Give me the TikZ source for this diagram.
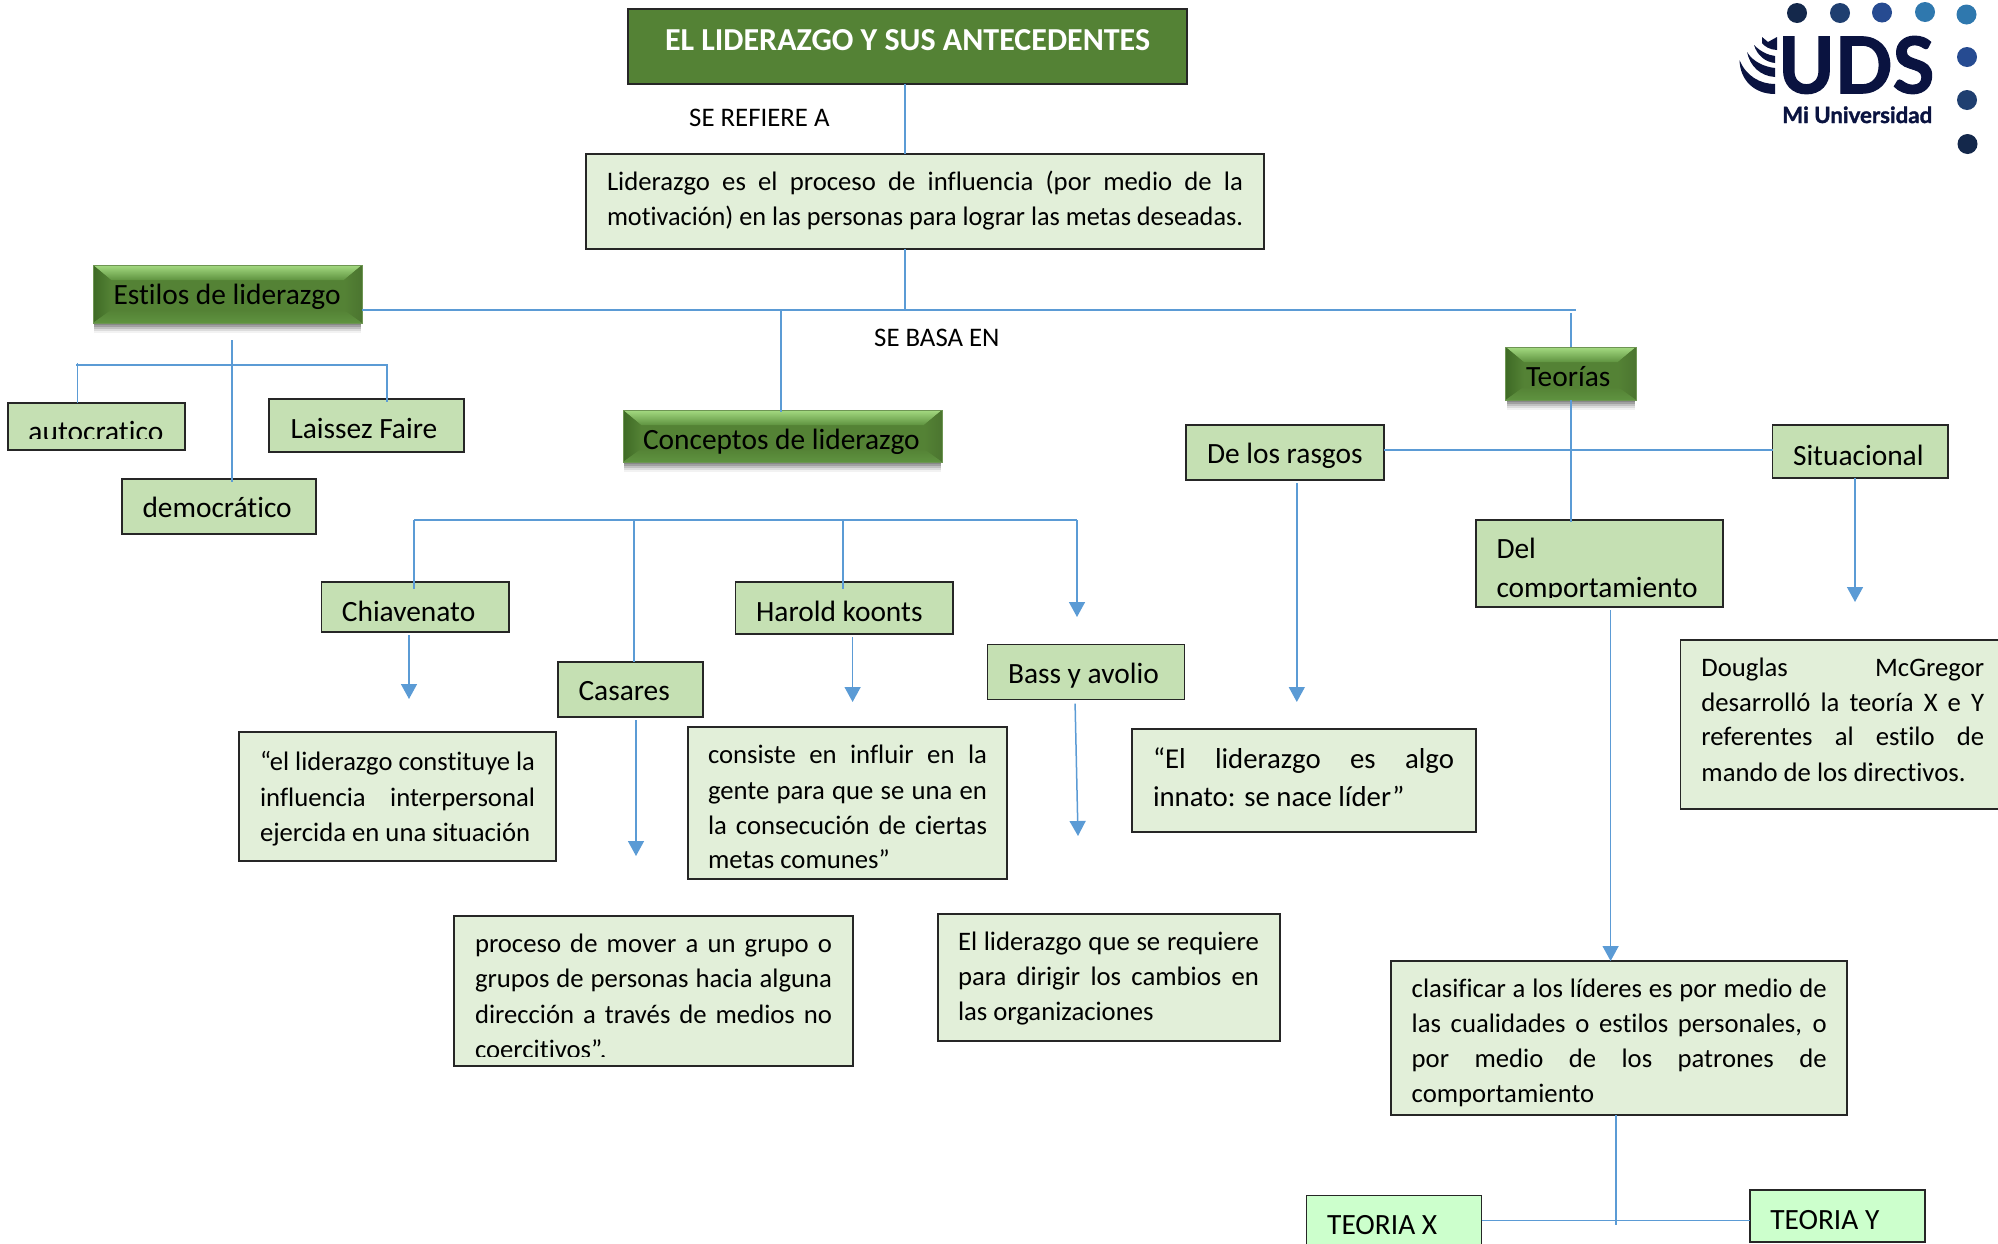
\documentclass[tikz,border=0pt]{standalone}
\usepackage{fontspec}
\usepackage{graphicx}
\setmainfont[Ligatures=NoCommon]{Carlito}
\newfontfamily\logofam[BoldFeatures={FakeBold=1.6}]{Lato}
\usetikzlibrary{arrows.meta,calc}
\definecolor{lightbox}{HTML}{E2EFD9}
\definecolor{midbox}{HTML}{C5E0B3}
\definecolor{brightbox}{HTML}{CCFFCC}
\definecolor{titlegreen}{HTML}{548235}
\definecolor{bevellight}{HTML}{A5DB82}
\definecolor{bevelmid}{HTML}{5F9340}
\definecolor{beveldark}{HTML}{3E6A25}
\definecolor{linkblue}{HTML}{5B9BD5}
\definecolor{edge}{HTML}{262626}
\definecolor{logoink}{HTML}{0A1340}
\definecolor{dotA}{HTML}{14284B}
\definecolor{dotB}{HTML}{1F3F70}
\definecolor{dotC}{HTML}{264B91}
\definecolor{dotD}{HTML}{2F78AE}
\newcommand\fsz[1]{\fontsize{#1}{#1}\selectfont}
\newcommand\TJ[4]{\vskip#1pt\hbox to \bw pt{\hskip#2pt\smash{\makebox[#3pt][s]{#4}}\hss}}
\newcommand\TF[4]{\vskip#1pt\hbox to \bw pt{\hskip#2pt\smash{\resizebox{#3pt}{\height}{#4}}\hss}}
\newcommand\TN[3]{\vskip#1pt\hbox to \bw pt{\hskip#2pt\smash{#3}\hss}}
\newcommand\bx[7]{%
  \pgfmathsetmacro\bw{#5-#3}\pgfmathsetmacro\bh{#6-#4}%
  \node[#1,anchor=north west,inner sep=0pt,outer sep=0pt,minimum width=\bw pt,minimum height=\bh pt] (#2) at (#3,#4)
    {\vbox to \bh pt{\hsize=\bw pt\offinterlineskip\parindent=0pt #7\vss}};}
\newcommand\bvx[6]{%
  \foreach \sh/\op in {2/.16,4/.16,6/.13,8/.09,10/.05}{\fill[black,opacity=\op] ($(#2,#3)+(1,\sh)$) rectangle ($(#4,#5)+(-1,\sh)$);}
  \bx{bevelbox}{#1}{#2}{#3}{#4}{#5}{#6}}
\tikzset{
  x=1pt,y=-1pt,
  lightnode/.style={draw=edge,line width=1.3pt,fill=lightbox,font=\fsz{26.7}},
  midnode/.style={draw=edge,line width=1.3pt,fill=midbox,font=\fsz{29.4}},
  brightnode/.style={draw=edge,line width=1.1pt,fill=brightbox,font=\fsz{29.4}},
  titlenode/.style={draw=edge,line width=1.3pt,fill=titlegreen,text=white,font=\bfseries\fsz{32}},
  plainlabel/.style={anchor=base west,inner sep=0pt,font=\fsz{26.8}},
  link/.style={draw=linkblue,line width=1.5pt},
  arrowlink/.style={link,-{Triangle[length=15pt,width=16pt]}},
  bevelbox/.style={draw=titlegreen!85!white,line width=.8pt,fill=titlegreen,font=\fsz{29.4},
    path picture={
      \coordinate (nw) at (path picture bounding box.north west);
      \coordinate (ne) at (path picture bounding box.north east);
      \coordinate (se) at (path picture bounding box.south east);
      \coordinate (sw) at (path picture bounding box.south west);
      \coordinate (inw) at ($(nw)+(18,15)$);
      \coordinate (ine) at ($(ne)+(-18,15)$);
      \coordinate (ise) at ($(se)+(-18,-13)$);
      \coordinate (isw) at ($(sw)+(18,-13)$);
      \shade[top color=bevellight,bottom color=bevelmid] (nw)--(ne)--(ine)--(inw)--cycle;
      \shade[left color=beveldark,right color=titlegreen] (nw)--(inw)--(isw)--(sw)--cycle;
      \shade[left color=titlegreen,right color=titlegreen!90!black] (ne)--(ine)--(ise)--(se)--cycle;
      \shade[top color=titlegreen,bottom color=bevelmid] (sw)--(isw)--(ise)--(se)--cycle;
    }},
}
\begin{document}
\begin{tikzpicture}
\useasboundingbox (0,0) rectangle (1998,1243);
% main boxes
\bx{titlenode}{title}{628}{9}{1187}{84}{\TN{41}{37}{EL LIDERAZGO Y SUS ANTECEDENTES}}
\node[plainlabel] (refiere) at (689,126) {SE REFIERE A};
\bx{lightnode}{def}{586}{154}{1264}{249}{%
  \TJ{36}{21}{636}{Liderazgo es el proceso de influencia (por medio de la}
  \TF{35}{21}{636}{motivación) en las personas para lograr las metas deseadas.}}
\node[plainlabel] (basa) at (874,346) {SE BASA EN};
\bvx{estilos}{93}{265}{362}{323}{\TN{39}{20.5}{Estilos de liderazgo}}
\bvx{conceptos}{623}{410}{942}{462}{\TN{39}{20}{Conceptos de liderazgo}}
\bvx{teorias}{1505.6}{347}{1636}{400}{\TN{39}{20.4}{Teorías}}
% estilos
\bx{midnode}{auto}{8}{403}{185}{450}{\TN{38}{20.5}{autocratico}}
\fill[midbox] (10,439) rectangle (183,448);
\bx{midnode}{laissez}{269}{399}{464}{452}{\TN{39}{21.5}{Laissez Faire}}
\bx{midnode}{demo}{122}{479}{316}{534}{\TN{38}{20.5}{democrático}}
% conceptos
\bx{midnode}{chia}{321.4}{582}{509}{632}{\TN{39}{20.5}{Chiavenato}}
\bx{midnode}{casares}{558}{662}{703}{717}{\TN{38}{20.5}{Casares}}
\bx{midnode}{harold}{735.6}{582}{953}{634}{\TN{39}{20.5}{Harold koonts}}
\bx{midnode}{bass}{987.5}{644.6}{1184.5}{699.6}{\TN{38.4}{20.5}{Bass y avolio}}
\bx{lightnode}{chiadef}{239}{732}{556}{861}{%
  \TF{38}{21}{275}{“el liderazgo constituye la}
  \TJ{36}{21}{275}{influencia interpersonal}
  \TN{35}{21}{ejercida en una situación}}
\bx{lightnode}{hardef}{688}{727}{1007}{879}{%
  \TJ{36}{20}{279}{consiste en influir en la}
  \TJ{36}{20}{279}{gente para que se una en}
  \TJ{35}{20}{279}{la consecución de ciertas}
  \TN{34}{20}{metas comunes”}}
\bx{lightnode}{casdef}{454}{916}{853}{1066}{%
  \TJ{36.6}{21}{357}{proceso de mover a un grupo o}
  \TJ{34.4}{21}{357}{grupos de personas hacia alguna}
  \TJ{36}{21}{357}{dirección a través de medios no}
  \TN{35}{21}{coercitivos”.}}
\fill[lightbox] (456,1056.5) rectangle (851,1064);
\bx{lightnode}{bassdef}{938}{914}{1280}{1041}{%
  \TJ{36}{20}{301}{El liderazgo que se requiere}
  \TJ{35}{20}{301}{para dirigir los cambios en}
  \TN{35}{20}{las organizaciones}}
% teorias
\bx{midnode}{rasgos}{1186}{425}{1384}{480}{\TN{38}{21}{De los rasgos}}
\bx{midnode}{situ}{1772.5}{425}{1948}{478}{\TN{40}{20.5}{Situacional}}
\bx{midnode}{del}{1476}{520}{1723}{607}{\TN{38}{20.5}{Del}\TN{39}{20.5}{comportamiento}}
\fill[midbox] (1478,598) rectangle (1721,605);
\bx{lightnode}{rasdef}{1132}{729}{1476}{832}{%
  \TJ{39}{21}{301}{\fsz{28.8}“El liderazgo es algo}
  \TN{38}{21}{\fsz{28.8}innato: se nace líder”}}
\bx{lightnode}{doug}{1680.6}{640}{2010}{809}{%
  \TJ{36}{20.8}{282.7}{Douglas McGregor}
  \TJ{35}{20.8}{282.7}{desarrolló la teoría X e Y}
  \TJ{34.6}{20.8}{282.7}{referentes al estilo de}
  \TN{35.4}{20.8}{mando de los directivos.}}
\bx{lightnode}{clas}{1391}{961}{1847}{1115}{%
  \TJ{36}{20.7}{415}{clasificar a los líderes es por medio de}
  \TJ{35}{20.7}{415}{las cualidades o estilos personales, o}
  \TJ{35}{20.7}{415}{por medio de los patrones de}
  \TN{35}{20.7}{comportamiento}}
\bx{brightnode}{tx}{1306.7}{1195.7}{1481.6}{1270}{\TN{38.3}{20.5}{TEORIA X}}
\bx{brightnode}{ty}{1750}{1190}{1925}{1242}{\TN{39}{20.3}{TEORIA Y}}
% junctions and free ends
\coordinate (j1) at (905,310);
\coordinate (j2) at (781,310);
\coordinate (jr) at (1576,310);
\coordinate (es) at (232,340);
\coordinate (a1) at (77.5,365);
\coordinate (a2) at (387,365);
\coordinate (b1) at (414,520);
\coordinate (b2) at (634,520);
\coordinate (b3) at (843,520);
\coordinate (b4) at (1077,520);
\coordinate (b4e) at (1077,617);
\coordinate (ca) at (409,699);
\coordinate (cc) at (636,856);
\coordinate (ch) at (852.6,702);
\coordinate (cbs) at (1075,700);
\coordinate (cbe) at (1078,836);
\coordinate (cr) at (1296.8,702);
\coordinate (cs) at (1855,602);
\coordinate (tt) at (1571,313);
\coordinate (rr) at (1571,450);
\coordinate (cd) at (1610.6,700);
\coordinate (tc) at (1616,1225);
\coordinate (tm) at (1616,1220.7);
% connectors
\draw[link] (title.south -| j1) -- (def.north -| j1);
\draw[link] (def.south -| j1) -- (j1);
\draw[link] (estilos.east |- j1) -- (jr);
\draw[link] (j2) -- ($(conceptos.north -| j2)+(0,2)$);
\draw[link] (tt) -- (teorias.north -| tt);
\draw[link] (teorias.south -| tt) -- ($(del.north -| tt)+(0,2)$);
\draw[link] (rasgos.east |- rr) -- (situ.west |- rr);
\draw[link] (es) -- ($(demo.north -| es)+(0,3)$);
\draw[link] ($(a1)+(-1.5,0)$) -- (a2) -- ($(laissez.north -| a2)+(0,3)$);
\draw[link] (auto.north -| a1) -- ($(a1)+(0,-2)$);
\draw[link] (b1) -- (b4);
\draw[link] (b1) -- ($(chia.north -| b1)+(0,7)$);
\draw[link] (b2) -- (casares.north -| b2);
\draw[link] (b3) -- ($(harold.north -| b3)+(0,7)$);
\draw[arrowlink] (b4) -- (b4e);
\draw[arrowlink,shorten <=3pt] (chia.south -| ca) -- (ca);
\draw[arrowlink,shorten <=3pt] (casares.south -| cc) -- (cc);
\draw[arrowlink,shorten <=3pt] (harold.south -| ch) -- (ch);
\draw[arrowlink,shorten <=4pt] (bass.south -| cbs) -- (cbe);
\draw[arrowlink,shorten <=3pt] (rasgos.south -| cr) -- (cr);
\draw[arrowlink] (situ.south -| cs) -- (cs);
\draw[arrowlink,shorten <=3pt] (del.south -| cd) -- (clas.north -| cd);
\draw[link] (clas.south -| tc) -- (tc);
\draw[link] (tx.east |- tm) -- (ty.west |- tm);
% logo
\foreach \px/\py/\col in {1797/13/dotA,1840/13/dotB,1882/12.5/dotC,1925/12/dotD,1966.5/14.5/dotD,1967/57/dotC,1967/100/dotB,1967.5/144/dotA}
  \fill[\col] (\px,\py) circle[radius=10];
\node[anchor=south west,inner sep=0pt,text=logoink] (uds) at (1778,94) {\resizebox{156pt}{57pt}{\logofam\bfseries UDS}};
\node[anchor=base west,inner sep=0pt,text=logoink] (mi) at (1782,123) {\resizebox{150pt}{!}{\logofam\bfseries Mi Universidad}};
\fill[logoink] (1739.5,60) .. controls (1740,80) and (1754,94) .. (1775,94) -- (1775,84) .. controls (1760,84) and (1746,76) .. cycle;
\fill[logoink] (1747,52) .. controls (1750,66) and (1760,76) .. (1775,77) -- (1775,68) .. controls (1765,67) and (1753,62) .. cycle;
\fill[logoink] (1754,45) .. controls (1757,55) and (1765,62) .. (1775,63) -- (1775,56) .. controls (1768,55) and (1761,52) .. cycle;
\fill[logoink] (1762,37) -- (1768,42) -- (1777,37) -- (1777,50) .. controls (1770,50) and (1764,46) .. (1762,43) -- cycle;
\end{tikzpicture}
\end{document}
